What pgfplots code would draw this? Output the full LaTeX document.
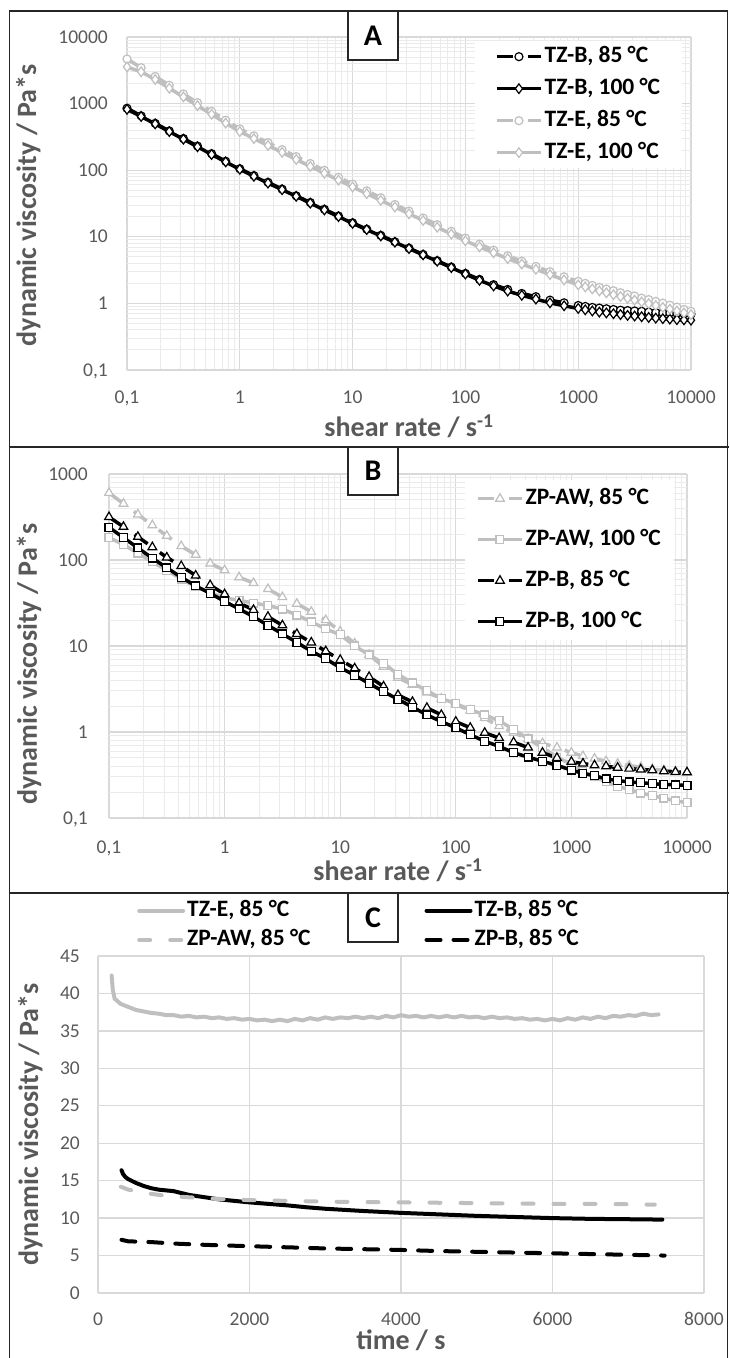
\documentclass[border=0pt]{standalone}
\usepackage{pgfplots}
\pgfplotsset{compat=1.18}
\usepackage{pgfplotstable}
\usepackage{fontspec}
\setmainfont{Carlito}

\definecolor{tickgray}{HTML}{595959}
\definecolor{gridmaj}{HTML}{D9D9D9}
\definecolor{gridmin}{HTML}{EBEBEB}
\definecolor{lgray}{HTML}{BFBFBF}
\definecolor{framecol}{HTML}{262626}

% panel A: shear rate sweep, TZ samples
\pgfplotstableread{
x      tzb85 tzb100 tze85 tze100
0.1    851   820    4677  3550
0.1334 655   640    3459  3000
0.1778 505   495    2559  2300
0.2371 388   380    1888  1700
0.3162 299   292    1396  1260
0.4217 230   225    1033  930
0.5623 177   172    764   690
0.7499 136   133    564   510
1      105   103    417   380
1.334  83    81     328   298
1.778  65.8  64     259   235
2.371  52.0  51     204   185
3.162  41.2  40.5   160   145
4.217  32.7  32     126   114
5.623  25.9  25.3   99.5  90
7.499  20.5  20.1   78.3  71
10     16.2  15.9   61.7  56
13.34  13.0  12.8   48.9  44.5
17.78  10.5  10.3   38.6  35.2
23.71  8.4   8.3    30.6  28
31.62  6.76  6.65   24.3  22.2
42.17  5.43  5.35   19.2  17.6
56.23  4.37  4.3    15.2  13.9
74.99  3.51  3.45   12.1  11.0
100    2.82  2.76   9.55  8.7
133.4  2.29  2.22   7.76  7.05
177.8  1.91  1.83   6.31  5.75
237.1  1.62  1.53   5.19  4.7
316.2  1.41  1.32   4.31  3.9
421.7  1.26  1.16   3.59  3.25
562.3  1.12  1.02   2.99  2.7
749.9  1.02  0.92   2.51  2.25
1000   0.93  0.84   2.14  1.9
1155   0.90  0.80   2.0   1.77
1334   0.87  0.77   1.86  1.65
1540   0.85  0.74   1.74  1.54
1778   0.83  0.72   1.64  1.44
2054   0.81  0.70   1.55  1.35
2371   0.79  0.68   1.45  1.27
2738   0.78  0.66   1.36  1.19
3162   0.77  0.645  1.29  1.12
3652   0.76  0.63   1.20  1.05
4217   0.74  0.615  1.14  0.99
4870   0.73  0.60   1.07  0.93
5623   0.72  0.59   1.01  0.87
6494   0.72  0.58   0.94  0.82
7499   0.71  0.57   0.88  0.77
8660   0.70  0.565  0.81  0.72
10000  0.69  0.56   0.76  0.68
}\panelA

% panel B: shear rate sweep, ZP samples
\pgfplotstableread{
x      zpaw85 zpaw100 zpb85 zpb100
0.1    603    182     316   240
0.1334 452    151     243   182
0.1778 339    120     186   138
0.2371 254    95      141   105
0.3162 191    76      107   81
0.4217 145    60      85    63
0.5623 115    49      66    50
0.7499 91     41.7    51    41
1      76     36.3    40    33
1.334  63     33.9    31.6  27
1.778  54     31.6    26.3  21.9
2.371  46     29.5    21.9  17.4
3.162  37     26.9    17.4  13.8
4.217  31     22.9    13.8  11.0
5.623  25     19.1    11.0  8.7
7.499  20     15.8    8.7   7.1
10     14.8   13.5    6.9   5.6
13.34  10.7   10.0    5.5   4.57
17.78  7.9    7.9     4.37  3.67
23.71  5.75   6.3     3.39  2.95
31.62  4.27   4.68    2.69  2.40
42.17  3.55   3.72    2.24  1.95
56.23  2.88   3.02    1.91  1.58
74.99  2.45   2.45    1.58  1.32
100    2.09   2.14    1.32  1.12
133.4  1.78   1.82    1.12  0.93
177.8  1.45   1.58    0.98  0.78
237.1  1.17   1.35    0.85  0.68
316.2  0.98   1.07    0.76  0.575
421.7  0.83   0.83    0.66  0.51
562.3  0.74   0.66    0.575 0.457
749.9  0.66   0.51    0.50  0.41
1000   0.575  0.42    0.45  0.36
1259   0.525  0.347   0.43  0.33
1585   0.49   0.302   0.41  0.31
1995   0.457  0.263   0.40  0.285
2512   0.427  0.234   0.385 0.272
3162   0.407  0.214   0.375 0.263
3981   0.389  0.195   0.367 0.257
5012   0.37   0.182   0.36  0.251
6310   0.359  0.17    0.35  0.245
7943   0.347  0.158   0.343 0.243
10000  0.339  0.151   0.34  0.24
}\panelB

\tikzset{legtext/.style={font=\fontsize{23.5}{25}\selectfont\bfseries, text=black}}

\pgfplotsset{
  excel/.style={
    scale only axis,
    axis line style={draw=none},
    major tick length=0pt, minor tick length=0pt,
    tick style={draw=none},
    ticklabel style={font=\fontsize{19.5}{20}\selectfont, text=tickgray, inner sep=0pt},
    label style={font=\fontsize{28}{30}\selectfont\bfseries, text=tickgray},
    major grid style={draw=gridmaj, line width=1.3pt},
    minor grid style={draw=gridmin, line width=1pt},
    clip=false,
    legend cell align=left,
    legend image code/.code={
      \draw[mark repeat=2,mark phase=2] plot coordinates {(0pt,0pt) (22pt,0pt) (44pt,0pt)};
    },
  },
}

\begin{document}
\begin{tikzpicture}
\useasboundingbox (0pt,0pt) rectangle (729pt,1358pt);

% ---------- A ----------
\begin{axis}[excel,
  xmode=log, ymode=log,
  at={(127pt,988pt)}, anchor=south west, width=564pt, height=333pt,
  xmin=0.1, xmax=10000, ymin=0.1, ymax=10000,
  xtick={0.1,1,10,100,1000,10000},
  xticklabels={{0,1},1,10,100,1000,10000},
  minor xtick={0.2,0.3,0.4,0.5,0.6,0.7,0.8,0.9,2,3,4,5,6,7,8,9,20,30,40,50,60,70,80,90,200,300,400,500,600,700,800,900,2000,3000,4000,5000,6000,7000,8000,9000},
  ytick={0.1,1,10,100,1000,10000},
  yticklabels={{0,1},1,10,100,1000,10000},
  minor ytick={0.2,0.3,0.4,0.5,0.6,0.7,0.8,0.9,2,3,4,5,6,7,8,9,20,30,40,50,60,70,80,90,200,300,400,500,600,700,800,900,2000,3000,4000,5000,6000,7000,8000,9000},
  grid=both,
  xticklabel style={anchor=base, yshift=-34pt},
  yticklabel style={anchor=base east, xshift=-19pt, yshift=-6.2pt},
  xlabel={shear rate / s\textsuperscript{-1}},
  ylabel={dynamic viscosity / Pa*s},
  xlabel style={at={(axis description cs:0.5,-0.201)}, anchor=base},
  ylabel style={at={(axis description cs:-0.161,0.495)}, anchor=base},
  legend style={legtext, at={(0.617,0.988)}, anchor=north west, draw=none, fill=white,
    inner xsep=20pt, inner ysep=3pt, row sep=7pt,
    nodes={inner sep=2pt, text height=16pt, text depth=5pt}},
]
\addplot[black, line width=3.5pt, dash pattern=on 16pt off 15pt, mark=*, mark size=4pt,
  mark options={solid, line width=1.2pt, fill=white, draw=black}] table[x=x,y=tzb85]{\panelA};
\addlegendentry{TZ-B, 85 °C}
\addplot[black, line width=3.5pt, mark=diamond*, mark size=4.8pt,
  mark options={solid, line width=1.2pt, fill=white, draw=black}] table[x=x,y=tzb100]{\panelA};
\addlegendentry{TZ-B, 100 °C}
\addplot[lgray, line width=3.5pt, dash pattern=on 16pt off 15pt, mark=*, mark size=4pt,
  mark options={solid, line width=1.2pt, fill=white, draw=lgray}] table[x=x,y=tze85]{\panelA};
\addlegendentry{TZ-E, 85 °C}
\addplot[lgray, line width=3.5pt, mark=diamond*, mark size=4.8pt,
  mark options={solid, line width=1.2pt, fill=white, draw=lgray}] table[x=x,y=tze100]{\panelA};
\addlegendentry{TZ-E, 100 °C}
\end{axis}

% ---------- B ----------
\begin{axis}[excel,
  xmode=log, ymode=log,
  at={(109pt,540pt)}, anchor=south west, width=578pt, height=344pt,
  xmin=0.1, xmax=10000, ymin=0.1, ymax=1000,
  xtick={0.1,1,10,100,1000,10000},
  xticklabels={{0,1},1,10,100,1000,10000},
  minor xtick={0.2,0.3,0.4,0.5,0.6,0.7,0.8,0.9,2,3,4,5,6,7,8,9,20,30,40,50,60,70,80,90,200,300,400,500,600,700,800,900,2000,3000,4000,5000,6000,7000,8000,9000},
  ytick={0.1,1,10,100,1000},
  yticklabels={{0,1},1,10,100,1000},
  minor ytick={0.2,0.3,0.4,0.5,0.6,0.7,0.8,0.9,2,3,4,5,6,7,8,9,20,30,40,50,60,70,80,90,200,300,400,500,600,700,800,900},
  grid=both,
  xticklabel style={anchor=base, yshift=-36pt},
  yticklabel style={anchor=base east, xshift=-21pt, yshift=-6.2pt},
  xlabel={shear rate / s\textsuperscript{-1}},
  ylabel={dynamic viscosity / Pa*s},
  xlabel style={at={(axis description cs:0.5,-0.183)}, anchor=base},
  ylabel style={at={(axis description cs:-0.1246,0.448)}, anchor=base},
  legend style={legtext, at={(0.616,0.9826)}, anchor=north west, draw=none, fill=white,
    inner xsep=11pt, inner ysep=6pt, row sep=16pt,
    nodes={inner sep=2pt, text height=16pt, text depth=5pt}},
]
\addplot[lgray, line width=3.5pt, dash pattern=on 16pt off 15pt, mark=triangle*, mark size=5pt,
  mark options={solid, line width=1.2pt, fill=white, draw=lgray}] table[x=x,y=zpaw85]{\panelB};
\addlegendentry{ZP-AW, 85 °C}
\addplot[lgray, line width=3.5pt, mark=square*, mark size=3.9pt,
  mark options={solid, line width=1.2pt, fill=white, draw=lgray}] table[x=x,y=zpaw100]{\panelB};
\addlegendentry{ZP-AW, 100 °C}
\addplot[black, line width=3.5pt, dash pattern=on 16pt off 15pt, mark=triangle*, mark size=5pt,
  mark options={solid, line width=1.2pt, fill=white, draw=black}] table[x=x,y=zpb85]{\panelB};
\addlegendentry{ZP-B, 85 °C}
\addplot[black, line width=3.5pt, mark=square*, mark size=3.9pt,
  mark options={solid, line width=1.2pt, fill=white, draw=black}] table[x=x,y=zpb100]{\panelB};
\addlegendentry{ZP-B, 100 °C}
\end{axis}

% ---------- C ----------
\begin{axis}[excel,
  at={(98pt,65pt)}, anchor=south west, width=606pt, height=337pt,
  xmin=0, xmax=8000, ymin=0, ymax=45,
  xtick={0,2000,4000,6000,8000},
  xticklabels={0,2000,4000,6000,8000},
  ytick={0,5,10,15,20,25,30,35,40,45},
  yticklabels={0,5,10,15,20,25,30,35,40,45},
  grid=major,
  xticklabel style={anchor=base, yshift=-33pt},
  yticklabel style={anchor=base east, xshift=-18pt, yshift=-6.2pt},
  xlabel={time / s},
  ylabel={dynamic viscosity / Pa*s},
  xlabel style={at={(axis description cs:0.5,-0.169)}, anchor=base},
  ylabel style={at={(axis description cs:-0.099,0.5)}, anchor=base},
  legend columns=2,
  legend style={legtext, at={(0.0644,1.172)}, anchor=north west, draw=none, fill=none,
    inner sep=0pt, row sep=4pt,
    nodes={inner sep=2pt, text height=16pt, text depth=5pt},
    /tikz/every even column/.append style={column sep=112pt}},
]
\addplot[lgray, line width=4pt, line cap=round, mark=none] coordinates {
(180,42.4) (195,40.5) (220,39.3) (300,38.6) (400,38.2) (500,37.8) (600,37.6) (700,37.4)
(800,37.3) (900,37.1) (1000,37.1) (1100,36.9) (1200,37.0) (1300,36.8) (1400,36.9) (1500,36.7)
(1600,36.8) (1700,36.6) (1800,36.7) (1900,36.5) (2000,36.6) (2100,36.4) (2200,36.5) (2300,36.3)
(2400,36.5) (2500,36.3) (2600,36.6) (2700,36.4) (2800,36.7) (2900,36.5) (3000,36.8) (3100,36.6)
(3200,36.8) (3300,36.7) (3400,36.9) (3500,36.7) (3600,36.9) (3700,36.7) (3800,37.0) (3900,36.8)
(4000,37.1) (4100,36.9) (4200,37.0) (4300,36.8) (4400,37.0) (4500,36.8) (4600,37.0) (4700,36.8)
(4800,37.0) (4900,36.8) (5000,36.9) (5100,36.7) (5200,36.9) (5300,36.7) (5400,36.8) (5500,36.6)
(5600,36.7) (5700,36.5) (5800,36.6) (5900,36.4) (6000,36.6) (6100,36.4) (6200,36.7) (6300,36.5)
(6400,36.8) (6500,36.6) (6600,36.9) (6700,36.7) (6800,37.0) (6900,36.9) (7000,37.1) (7100,37.0)
(7200,37.3) (7300,37.1) (7400,37.2)
};
\addlegendentry{TZ-E, 85 °C}
\addplot[black, line width=4pt, line cap=round, mark=none] coordinates {
(310,16.4) (330,15.9) (360,15.5) (400,15.2) (500,14.7) (600,14.3) (700,14.0) (800,13.8)
(1000,13.6) (1200,13.1) (1400,12.8) (1600,12.5) (1800,12.3) (2000,12.1) (2250,11.9) (2500,11.7)
(2750,11.45) (3000,11.25) (3500,10.95) (4000,10.7) (4500,10.5) (5000,10.3) (5500,10.15)
(6000,10.0) (6500,9.9) (7000,9.85) (7450,9.8)
};
\addlegendentry{TZ-B, 85 °C}
\addplot[lgray, line width=4pt, line cap=round, dash pattern=on 11pt off 20pt, mark=none] coordinates {
(300,14.2) (400,13.8) (600,13.4) (800,13.1) (1000,12.9) (1500,12.6) (2000,12.4) (2500,12.3)
(3000,12.2) (3500,12.15) (4000,12.1) (4500,12.05) (5000,12.0) (5500,11.95) (6000,11.9)
(6500,11.9) (7000,11.85) (7350,11.8)
};
\addlegendentry{ZP-AW, 85 °C}
\addplot[black, line width=4pt, line cap=round, dash pattern=on 14pt off 13pt, mark=none] coordinates {
(310,7.1) (400,6.9) (700,6.8) (1000,6.6) (1500,6.4) (2000,6.25) (2500,6.1) (3000,5.95)
(3500,5.85) (4000,5.75) (4500,5.6) (5000,5.5) (5500,5.4) (6000,5.3) (6500,5.2) (7000,5.1)
(7480,5.0)
};
\addlegendentry{ZP-B, 85 °C}
\end{axis}

% panel frames
\draw[framecol, line width=1.5pt] (9.5pt,0pt) -- (9.5pt,1347pt) -- (727.5pt,1347pt) -- (727.5pt,0pt);
\draw[framecol, line width=2pt] (9.5pt,911pt) -- (729pt,911pt);
\draw[framecol, line width=2pt] (9.5pt,465pt) -- (729pt,465pt);

% panel letters
\tikzset{plabel/.style={draw=framecol, line width=1.2pt, fill=white, minimum width=50pt,
  inner sep=0pt, font=\fontsize{30}{30}\selectfont\bfseries, text=black}}
\node[plabel, minimum height=49pt] at (373pt,1322.5pt) {A};
\node[plabel, minimum height=48pt] at (373pt,887pt) {B};
\node[plabel, minimum height=49pt] at (373pt,440.5pt) {C};
\end{tikzpicture}
\end{document}
